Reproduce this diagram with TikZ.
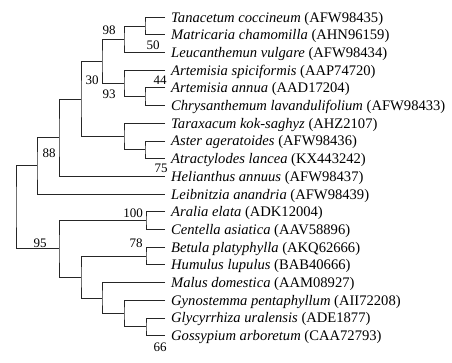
\documentclass[tikz,border=0pt]{standalone}
\usepackage{fontspec}
\setmainfont{Liberation Serif}
\begin{document}
\begin{tikzpicture}[x=1pt,y=-1pt,
  br/.style={draw=black!85, line width=0.7pt},
  leaf/.style={anchor=base west, inner sep=0pt, font=\fontsize{14.6}{17}\selectfont},
  bs/.style={inner sep=0pt, font=\fontsize{13}{15}\selectfont}]
\useasboundingbox[fill=white] (0,0) rectangle (452,362);
% leaf tips
\foreach \i in {0,...,18} {\coordinate (L\i) at (165,{17+17.7*\i});}
% internal nodes
\coordinate (nTM) at (145,25.85);
\coordinate (n98) at (124,39.125);
\coordinate (nAC) at (145,96.65);
\coordinate (n44) at (124,83.375);
\coordinate (n30) at (102,61.25);
\coordinate (nAA) at (145,149.75);
\coordinate (nTar) at (124,136.475);
\coordinate (nA) at (81,98.86);
\coordinate (nH) at (59,137.58);
\coordinate (n88) at (37,165.79);
\coordinate (nAC2) at (146,220.55);
\coordinate (nBH) at (146,255.95);
\coordinate (nGG) at (146,326.75);
\coordinate (nGy) at (124,313.475);
\coordinate (nMa) at (102,297.99);
\coordinate (nB) at (81,276.97);
\coordinate (n95) at (59,248.76);
\coordinate (root) at (16,207.27);
% branches
\draw[br] (L0) -| (nTM) |- (L1);
\draw[br] (nTM) -| (n98) |- (L2);
\draw[br] (L4) -| (nAC) |- (L5);
\draw[br] (L3) -| (n44) |- (nAC);
\draw[br] (n98) -| (n30) |- (n44);
\draw[br] (L7) -| (nAA) |- (L8);
\draw[br] (L6) -| (nTar) |- (nAA);
\draw[br] (n30) -| (nA) |- (nTar);
\draw[br] (nA) -| (nH) |- (L9);
\draw[br] (nH) -| (n88) |- (L10);
\draw[br] (L11) -| (nAC2) |- (L12);
\draw[br] (L13) -| (nBH) |- (L14);
\draw[br] (L17) -| (nGG) |- (L18);
\draw[br] (L16) -| (nGy) |- (nGG);
\draw[br] (L15) -| (nMa) |- (nGy);
\draw[br] (nBH) -| (nB) |- (nMa);
\draw[br] (nAC2) -| (n95) |- (nB);
\draw[br] (n88) -| (root) |- (n95);
% leaf labels
\node[leaf] (t0) at ([xshift=6pt,yshift=-5pt]L0) {\textit{Tanacetum coccineum} (AFW98435)};
\node[leaf] (t1) at ([xshift=6pt,yshift=-5pt]L1) {\textit{Matricaria chamomilla} (AHN96159)};
\node[leaf] (t2) at ([xshift=6pt,yshift=-5pt]L2) {\textit{Leucanthemun vulgare} (AFW98434)};
\node[leaf] (t3) at ([xshift=6pt,yshift=-5pt]L3) {\textit{Artemisia spiciformis} (AAP74720)};
\node[leaf] (t4) at ([xshift=6pt,yshift=-5pt]L4) {\textit{Artemisia annua} (AAD17204)};
\node[leaf] (t5) at ([xshift=6pt,yshift=-5pt]L5) {\textit{Chrysanthemum lavandulifolium} (AFW98433)};
\node[leaf] (t6) at ([xshift=6pt,yshift=-5pt]L6) {\textit{Taraxacum kok-saghyz} (AHZ2107)};
\node[leaf] (t7) at ([xshift=6pt,yshift=-5pt]L7) {\textit{Aster ageratoides} (AFW98436)};
\node[leaf] (t8) at ([xshift=6pt,yshift=-5pt]L8) {\textit{Atractylodes lancea} (KX443242)};
\node[leaf] (t9) at ([xshift=6pt,yshift=-5pt]L9) {\textit{Helianthus annuus} (AFW98437)};
\node[leaf] (t10) at ([xshift=6pt,yshift=-5pt]L10) {\textit{Leibnitzia anandria} (AFW98439)};
\node[leaf] (t11) at ([xshift=6pt,yshift=-5pt]L11) {\textit{Aralia elata} (ADK12004)};
\node[leaf] (t12) at ([xshift=6pt,yshift=-5pt]L12) {\textit{Centella asiatica} (AAV58896)};
\node[leaf] (t13) at ([xshift=6pt,yshift=-5pt]L13) {\textit{Betula platyphylla} (AKQ62666)};
\node[leaf] (t14) at ([xshift=6pt,yshift=-5pt]L14) {\textit{Humulus lupulus} (BAB40666)};
\node[leaf] (t15) at ([xshift=6pt,yshift=-5pt]L15) {\textit{Malus domestica} (AAM08927)};
\node[leaf] (t16) at ([xshift=6pt,yshift=-5pt]L16) {\textit{Gynostemma pentaphyllum} (AII72208)};
\node[leaf] (t17) at ([xshift=6pt,yshift=-5pt]L17) {\textit{Glycyrrhiza uralensis} (ADE1877)};
\node[leaf] (t18) at ([xshift=6pt,yshift=-5pt]L18) {\textit{Gossypium arboretum} (CAA72793)};
% bootstrap values
\node[bs] (b98) at (109,30) {98};
\node[bs] (b50) at (153,45) {50};
\node[bs] (b30) at (92,80) {30};
\node[bs] (b93) at (109,94.5) {93};
\node[bs] (b44) at (160,80) {44};
\node[bs] (b88) at (49,153) {88};
\node[bs] (b75) at (161,168) {75};
\node[bs] (b95) at (40,243) {95};
\node[bs] (b100) at (133,213.5) {100};
\node[bs] (b78) at (136,243) {78};
\node[bs] (b66) at (160,347) {66};
\end{tikzpicture}
\end{document}
